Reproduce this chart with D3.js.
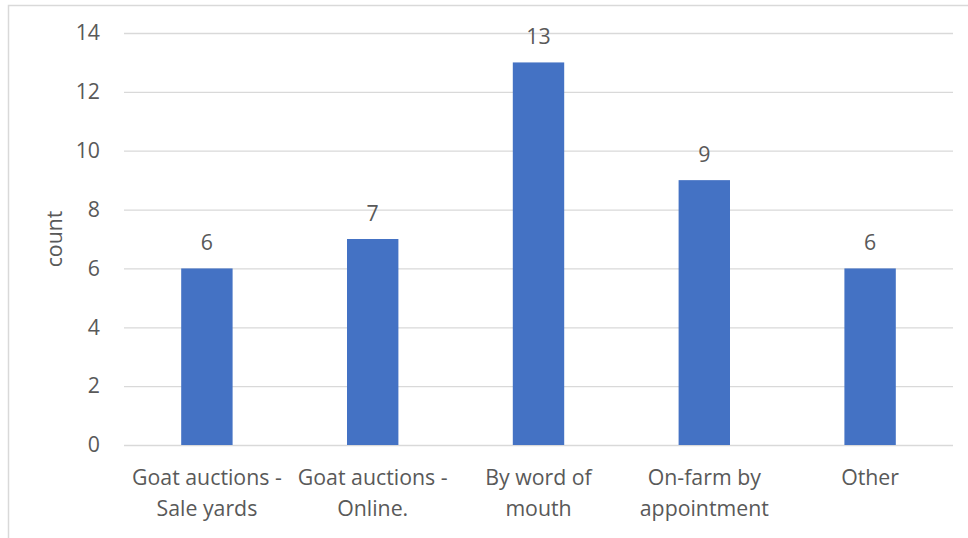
<!DOCTYPE html>
<html>
<head>
<meta charset="utf-8">
<script src="https://cdn.jsdelivr.net/npm/d3@7"></script>
<style>
  html, body { margin: 0; padding: 0; background: #fff; }
  svg { display: block; }
  text { font-family: "Open Sans", "Noto Sans", sans-serif; fill: #595959; }
</style>
</head>
<body>
<svg id="chart" width="968" height="538"></svg>
<script>
// Purchase channels and how many respondents chose each
const categories = [
  ["Goat auctions -", "Sale yards"],
  ["Goat auctions -", "Online."],
  ["By word of", "mouth"],
  ["On-farm by", "appointment"],
  ["Other"]
];
const counts = [6, 7, 13, 9, 6];
const yTicks = [0, 2, 4, 6, 8, 10, 12, 14];
const yTitle = "count";

const W = 968, H = 538;
const margin = { left: 124, right: 15, top: 33, bottom: 93 };
const FS = 21.3;

const svg = d3.select("#chart");

// Chart frame (left and top edges)
svg.append("path")
  .attr("d", `M8.5,${H} V5.5 H${W}`)
  .attr("fill", "none")
  .attr("stroke", "#d9d9d9")
  .attr("stroke-width", 1.5);

const keys = categories.map((c, i) => i);
const x = d3.scaleBand()
  .domain(keys)
  .range([margin.left, W - margin.right])
  .paddingInner(0.69)
  .paddingOuter(0.345);

const y = d3.scaleLinear()
  .domain([0, 14])
  .range([H - margin.bottom, margin.top]);

// Horizontal gridlines with tick labels
const yAxis = d3.axisLeft(y)
  .tickValues(yTicks)
  .tickSize(-(W - margin.right - margin.left))
  .tickPadding(24);

const gy = svg.append("g")
  .attr("transform", `translate(${margin.left},0)`)
  .call(yAxis);
gy.select(".domain").remove();
gy.selectAll(".tick line").attr("stroke", "#d9d9d9").attr("stroke-width", 1.3);
gy.selectAll(".tick text")
  .attr("font-size", FS)
  .style("font-family", '"Open Sans", "Noto Sans", sans-serif')
  .attr("fill", "#595959");

// Bars
svg.append("g")
  .selectAll("rect")
  .data(counts)
  .join("rect")
  .attr("x", (d, i) => x(i))
  .attr("width", x.bandwidth())
  .attr("y", d => y(d))
  .attr("height", d => y(0) - y(d))
  .attr("fill", "#4472c4");

// Value labels
svg.append("g")
  .selectAll("text")
  .data(counts)
  .join("text")
  .attr("x", (d, i) => x(i) + x.bandwidth() / 2)
  .attr("y", d => y(d) - 18)
  .attr("text-anchor", "middle")
  .attr("font-size", FS)
  .text(d => d);

// Category labels (wrapped on two lines)
const xl = svg.append("g")
  .selectAll("text")
  .data(categories)
  .join("text")
  .attr("x", (d, i) => x(i) + x.bandwidth() / 2)
  .attr("y", 485)
  .attr("text-anchor", "middle")
  .attr("font-size", FS);
xl.selectAll("tspan")
  .data(d => d)
  .join("tspan")
  .attr("x", function () { return d3.select(this.parentNode).attr("x"); })
  .attr("dy", (d, j) => j === 0 ? 0 : 31)
  .text(d => d);

// Y-axis title
svg.append("text")
  .attr("transform", `translate(62,${(y(0) + y(14)) / 2}) rotate(-90)`)
  .attr("text-anchor", "middle")
  .attr("font-size", FS)
  .text(yTitle);
</script>
</body>
</html>
